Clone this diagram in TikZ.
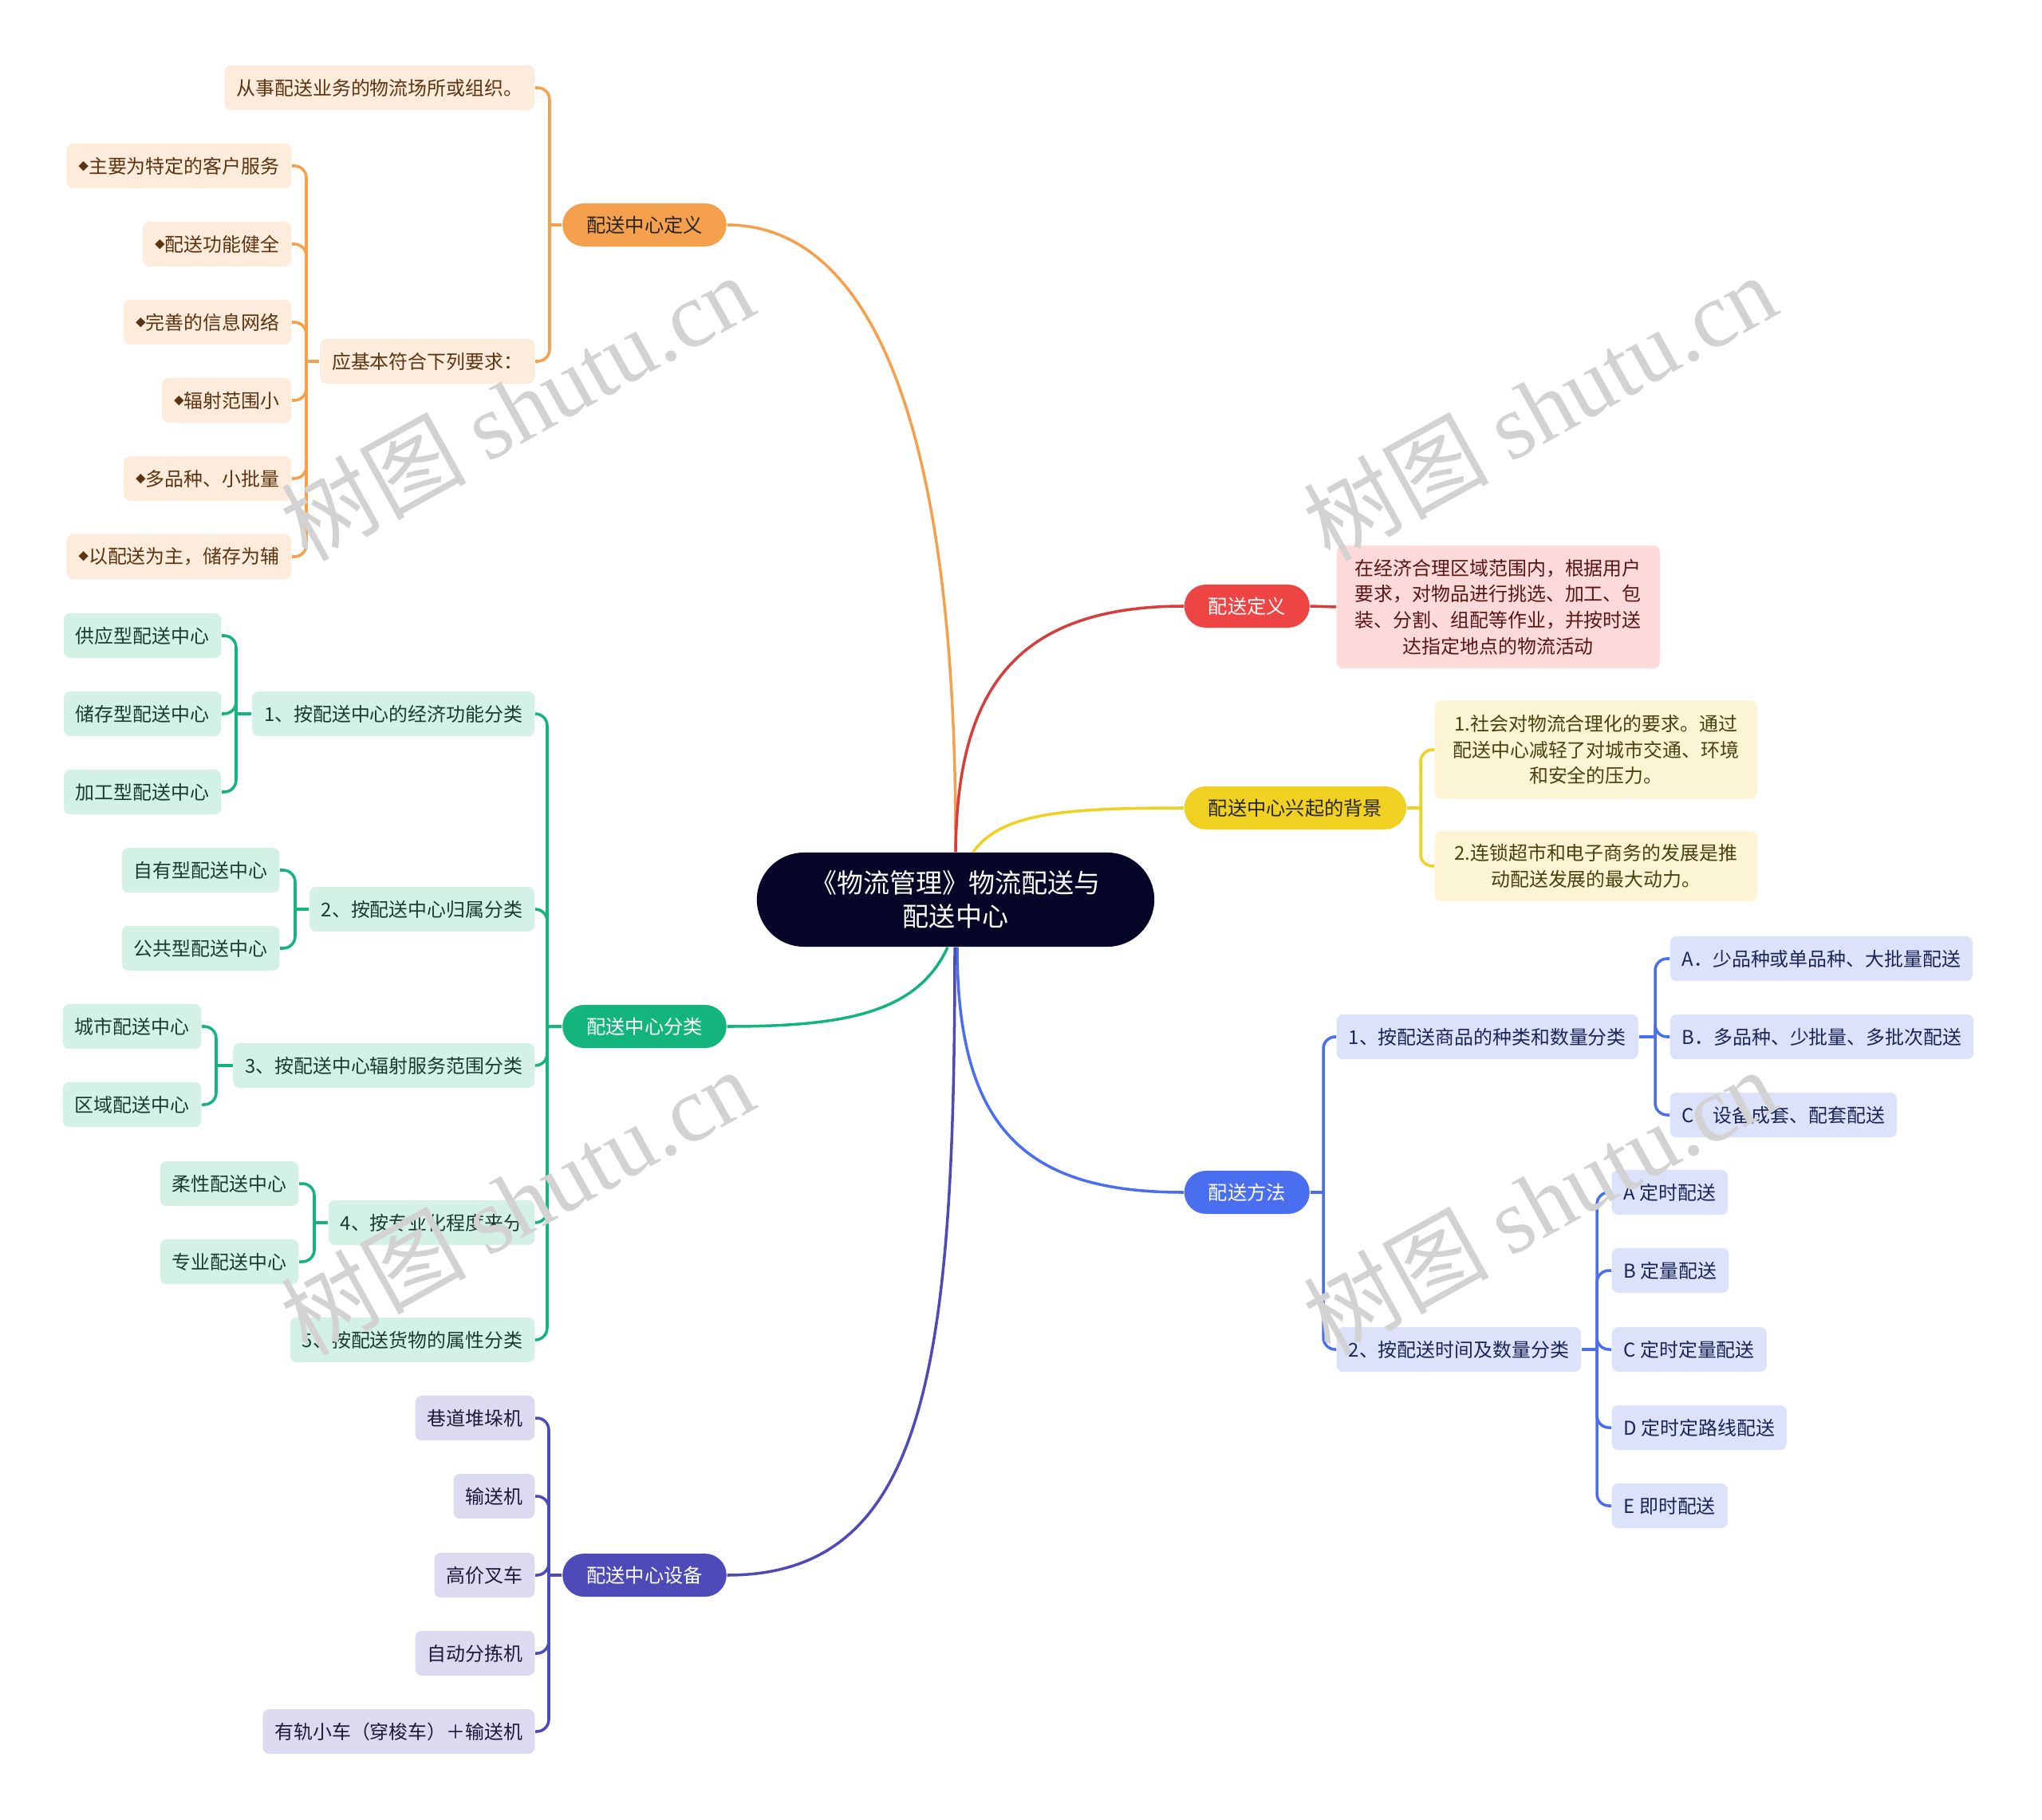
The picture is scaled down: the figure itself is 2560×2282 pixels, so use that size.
\documentclass[tikz,border=0pt]{standalone}
\usepackage{fontspec}
\setmainfont{Noto Sans CJK SC}
\newfontfamily\wmserif{Liberation Serif}
\usetikzlibrary{calc}
\definecolor{cdark}{HTML}{050628}
\definecolor{corange}{HTML}{F5A04C}
\definecolor{corangeL}{HTML}{FDEBDC}
\definecolor{corangeT}{HTML}{5C3410}
\definecolor{cgreen}{HTML}{13B57C}
\definecolor{cgreenL}{HTML}{D3F2E5}
\definecolor{cgreenT}{HTML}{1E3A2E}
\definecolor{cpurple}{HTML}{4E4AB8}
\definecolor{cpurpleL}{HTML}{DCDAF1}
\definecolor{cpurpleT}{HTML}{1C1A3A}
\definecolor{cred}{HTML}{EF4444}
\definecolor{credL}{HTML}{FDDADA}
\definecolor{credT}{HTML}{5A1515}
\definecolor{cyellow}{HTML}{F0D020}
\definecolor{cyellowL}{HTML}{FBF5D4}
\definecolor{cyellowT}{HTML}{4A4010}
\definecolor{cblue}{HTML}{4A6EF0}
\definecolor{cblueL}{HTML}{DCE2FA}
\definecolor{cblueT}{HTML}{1A2558}
\definecolor{cwm}{HTML}{D2D2D2}
\newcommand\mybullet{\raisebox{0.3ex}{\fontsize{3.6pt}{4pt}\selectfont ◆}}
\begin{document}
\begin{tikzpicture}[x=0.01cm,y=-0.01cm,
  leafbox/.style={rounded corners=0.08cm, inner xsep=0.15cm, inner ysep=0pt, minimum height=0.56cm, font=\fontsize{6.8pt}{9.3pt}\selectfont, align=center},
  mainpill/.style={rounded corners=0.27cm, minimum height=0.54cm, inner xsep=0.30cm, inner ysep=0pt, font=\fontsize{6.9pt}{8pt}\selectfont},
  central/.style={rounded corners=0.59cm, minimum width=4.98cm, minimum height=1.18cm, font=\fontsize{9.4pt}{11.9pt}\selectfont, align=center, text=white, fill=cdark},
  oleaf/.style={leafbox, fill=corangeL, text=corangeT, anchor=east},
  gleaf/.style={leafbox, fill=cgreenL, text=cgreenT, anchor=east},
  pleaf/.style={leafbox, fill=cpurpleL, text=cpurpleT, anchor=east},
  bleaf/.style={leafbox, fill=cblueL, text=cblueT, anchor=west},
  lo/.style={draw=corange, line width=1pt},
  lg/.style={draw=cgreen, line width=1pt},
  lp/.style={draw=cpurple, line width=1pt},
  lr/.style={draw=cred!90!black, line width=1pt},
  ly/.style={draw=cyellow, line width=1pt},
  lb/.style={draw=cblue, line width=1pt},
  rc/.style={rounded corners=0.15cm},
  wmark/.style={rotate=29, text=cwm, font=\fontsize{33pt}{36pt}\selectfont}
]
\fill[white] (0,0) rectangle (2560,2282);
\useasboundingbox (0,0) rectangle (2560,2282);

% central
\node[central] (c) at (1198,1128) {《物流管理》物流配送与\\配送中心};

% main branches
\node[mainpill, fill=corange, text=black!85] (mo) at (808,282) {配送中心定义};
\node[mainpill, fill=cgreen, text=white] (mg) at (808,1287) {配送中心分类};
\node[mainpill, fill=cpurple, text=white] (mp) at (808,1975) {配送中心设备};
\node[mainpill, fill=cred, text=white, anchor=west] (mr) at (1484,760) {配送定义};
\node[mainpill, fill=cyellow, text=black!85, anchor=west] (my) at (1484,1013) {配送中心兴起的背景};
\node[mainpill, fill=cblue, text=white, anchor=west] (mb) at (1484,1495) {配送方法};

\draw[lo] (c.north) .. controls (1200,457) and (1061,282) .. (mo.east);
\draw[lr] (c.north) .. controls (1200,880) and (1260,760) .. (mr.west);
\draw[ly] ($(c.north)+(22,0)$) .. controls (1255,1020) and (1330,1013) .. (my.west);
\draw[lg] ($(c.south)+(-10,0)$) .. controls (1150,1270) and (1060,1287) .. (mg.east);
\draw[lb] ($(c.south)+(2,0)$) .. controls (1200,1420) and (1290,1495) .. (mb.west);
\draw[lp] ($(c.south)+(-1,0)$) .. controls (1197,1720) and (1160,1975) .. (mp.east);

% orange branch
\node[oleaf] (o1) at (671,110) {从事配送业务的物流场所或组织。};
\node[oleaf] (o2) at (671,453) {应基本符合下列要求：};
\node[oleaf] (o2a) at (366,208) {\mybullet 主要为特定的客户服务};
\node[oleaf] (o2b) at (366,306) {\mybullet 配送功能健全};
\node[oleaf] (o2c) at (366,404) {\mybullet 完善的信息网络};
\node[oleaf] (o2d) at (366,502) {\mybullet 辐射范围小};
\node[oleaf] (o2e) at (366,600) {\mybullet 多品种、小批量};
\node[oleaf] (o2f) at (366,698) {\mybullet 以配送为主，储存为辅};
\coordinate (jo) at (689,282);
\coordinate (jo2) at (384,453);
\draw[lo] (mo.west) -- (jo);
\draw[lo,rc] (jo) |- (o1.east);
\draw[lo,rc] (jo) |- (o2.east);
\draw[lo] (o2.west) -- (jo2);
\foreach \n in {o2a,o2b,o2c,o2d,o2e,o2f} \draw[lo,rc] (jo2) |- (\n.east);

% green branch
\node[gleaf] (g1) at (671,895) {1、按配送中心的经济功能分类};
\node[gleaf] (g2) at (671,1140) {2、按配送中心归属分类};
\node[gleaf] (g3) at (671,1336) {3、按配送中心辐射服务范围分类};
\node[gleaf] (g4) at (671,1533) {4、按专业化程度来分};
\node[gleaf] (g5) at (671,1680) {5、按配送货物的属性分类};
\node[gleaf] (g1a) at (278,797) {供应型配送中心};
\node[gleaf] (g1b) at (278,895) {储存型配送中心};
\node[gleaf] (g1c) at (278,993) {加工型配送中心};
\node[gleaf] (g2a) at (351,1091) {自有型配送中心};
\node[gleaf] (g2b) at (351,1189) {公共型配送中心};
\node[gleaf] (g3a) at (253,1287) {城市配送中心};
\node[gleaf] (g3b) at (253,1385) {区域配送中心};
\node[gleaf] (g4a) at (375,1484) {柔性配送中心};
\node[gleaf] (g4b) at (375,1582) {专业配送中心};
\coordinate (jg) at (686,1287);
\coordinate (jg1) at (296,895);
\coordinate (jg2) at (370,1140);
\coordinate (jg3) at (271,1336);
\coordinate (jg4) at (394,1533);
\draw[lg] (mg.west) -- (jg);
\foreach \n in {g1,g2,g3,g4,g5} \draw[lg,rc] (jg) |- (\n.east);
\draw[lg] (g1.west) -- (jg1);
\foreach \n in {g1a,g1b,g1c} \draw[lg,rc] (jg1) |- (\n.east);
\draw[lg] (g2.west) -- (jg2);
\foreach \n in {g2a,g2b} \draw[lg,rc] (jg2) |- (\n.east);
\draw[lg] (g3.west) -- (jg3);
\foreach \n in {g3a,g3b} \draw[lg,rc] (jg3) |- (\n.east);
\draw[lg] (g4.west) -- (jg4);
\foreach \n in {g4a,g4b} \draw[lg,rc] (jg4) |- (\n.east);

% purple branch
\node[pleaf] (p1) at (671,1778) {巷道堆垛机};
\node[pleaf] (p2) at (671,1876) {输送机};
\node[pleaf] (p3) at (671,1975) {高价叉车};
\node[pleaf] (p4) at (671,2073) {自动分拣机};
\node[pleaf] (p5) at (671,2171) {有轨小车（穿梭车）＋输送机};
\coordinate (jp) at (688,1975);
\draw[lp] (mp.west) -- (jp);
\foreach \n in {p1,p2,p3,p4,p5} \draw[lp,rc] (jp) |- (\n.east);

% red branch
\node[leafbox, fill=credL, text=credT, anchor=west, minimum width=4.05cm, minimum height=1.54cm] (r1) at (1675,761)
  {在经济合理区域范围内，根据用户\\要求，对物品进行挑选、加工、包\\装、分割、组配等作业，并按时送\\达指定地点的物流活动};
\draw[lr] (mr.east) -- (r1.west);

% yellow branch
\node[leafbox, fill=cyellowL, text=cyellowT, anchor=west, minimum width=4.04cm, minimum height=1.23cm] (y1) at (1798,940)
  {1.社会对物流合理化的要求。通过\\配送中心减轻了对城市交通、环境\\和安全的压力。};
\node[leafbox, fill=cyellowL, text=cyellowT, anchor=west, minimum width=4.04cm, minimum height=0.88cm] (y2) at (1798,1086)
  {2.连锁超市和电子商务的发展是推\\动配送发展的最大动力。};
\coordinate (jy) at (1781,1013);
\draw[ly] (my.east) -- (jy);
\draw[ly,rc] (jy) |- (y1.west);
\draw[ly,rc] (jy) |- (y2.west);

% blue branch
\node[bleaf] (b1) at (1675,1300) {1、按配送商品的种类和数量分类};
\node[bleaf] (b2) at (1675,1692) {2、按配送时间及数量分类};
\node[bleaf] (b1a) at (2093,1202) {A．少品种或单品种、大批量配送};
\node[bleaf] (b1b) at (2093,1300) {B．多品种、少批量、多批次配送};
\node[bleaf] (b1c) at (2093,1398) {C．设备成套、配套配送};
\node[bleaf] (b2a) at (2020,1495) {A 定时配送};
\node[bleaf] (b2b) at (2020,1593) {B 定量配送};
\node[bleaf] (b2c) at (2020,1692) {C 定时定量配送};
\node[bleaf] (b2d) at (2020,1790) {D 定时定路线配送};
\node[bleaf] (b2e) at (2020,1888) {E 即时配送};
\coordinate (jb) at (1659,1495);
\coordinate (jb1) at (2075,1300);
\coordinate (jb2) at (2002,1692);
\draw[lb] (mb.east) -- (jb);
\draw[lb,rc] (jb) |- (b1.west);
\draw[lb,rc] (jb) |- (b2.west);
\draw[lb] (b1.east) -- (jb1);
\foreach \n in {b1a,b1b,b1c} \draw[lb,rc] (jb1) |- (\n.west);
\draw[lb] (b2.east) -- (jb2);
\foreach \n in {b2a,b2b,b2c,b2d,b2e} \draw[lb,rc] (jb2) |- (\n.west);

% watermarks
\node[wmark] (w1) at (648,510) {树图 {\wmserif shutu.cn}};
\node[wmark] (w2) at (1930,510) {树图 {\wmserif shutu.cn}};
\node[wmark] (w3) at (648,1506) {树图 {\wmserif shutu.cn}};
\node[wmark] (w4) at (1930,1506) {树图 {\wmserif shutu.cn}};
\end{tikzpicture}
\end{document}
